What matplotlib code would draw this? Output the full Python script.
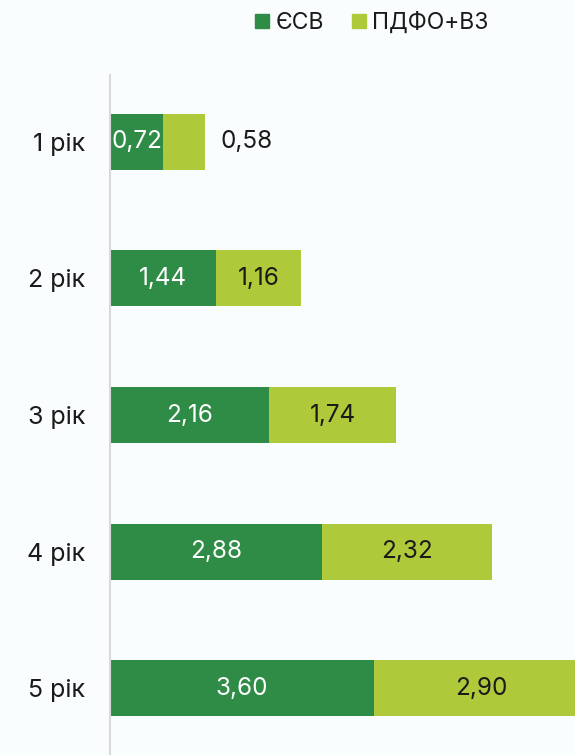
import numpy as np
import matplotlib.pyplot as plt
from matplotlib.patches import Patch

plt.rcParams['font.family'] = ['Inter', 'DejaVu Sans']

# дані
years = ["1 рік", "2 рік", "3 рік", "4 рік", "5 рік"]
esv = [0.72, 1.44, 2.16, 2.88, 3.60]
pdfo = [0.58, 1.16, 1.74, 2.32, 2.90]
esv_labels = ["0,72", "1,44", "2,16", "2,88", "3,60"]
pdfo_labels = ["0,58", "1,16", "1,74", "2,32", "2,90"]

c_dark = "#2f8c46"
c_light = "#aec93a"
bg = "#f9fdfd"

fig = plt.figure(figsize=(5.75, 7.55), dpi=100, facecolor=bg)
ax = fig.add_axes([110 / 575, 0, 465 / 575, 1 - 75 / 755])
ax.set_facecolor(bg)

y = np.arange(len(years))
ax.barh(y, esv, height=0.41, color=c_dark)
ax.barh(y, pdfo, left=esv, height=0.41, color=c_light)

ax.set_xlim(0, 6.33)
ax.set_ylim(4.49, -0.49)

# підписи значень
fs = 17.5
for i in range(len(years)):
    ax.text(esv[i] / 2, i, esv_labels[i], color="white", fontsize=fs,
            ha="center", va="center")
    if pdfo[i] < 1:
        # замалий сегмент - підпис справа
        ax.text(esv[i] + pdfo[i] + 0.2, i, pdfo_labels[i], color="#1a1a1a",
                fontsize=fs, ha="left", va="center")
    else:
        ax.text(esv[i] + pdfo[i] / 2, i, pdfo_labels[i], color="#1a1a1a",
                fontsize=fs, ha="center", va="center")

ax.set_yticks(y)
ax.set_yticklabels(years, fontsize=18, color="#1a1a1a")
ax.tick_params(axis="y", length=0, pad=18)
ax.set_xticks([])
for s in ["top", "right", "bottom"]:
    ax.spines[s].set_visible(False)
ax.spines["left"].set_color("#d9d9d9")
ax.spines["left"].set_linewidth(1.5)

handles = [Patch(color=c_dark, label="ЄСВ"), Patch(color=c_light, label="ПДФО+ВЗ")]
fig.legend(handles=handles, loc="center", bbox_to_anchor=(372 / 575, 1 - 23 / 755),
           ncol=2, frameon=False, fontsize=16.5, handlelength=0.6, handleheight=0.6,
           handletextpad=0.3, columnspacing=1.2, labelcolor="#1a1a1a")

fig.savefig("out.png", dpi=100, facecolor=bg)
